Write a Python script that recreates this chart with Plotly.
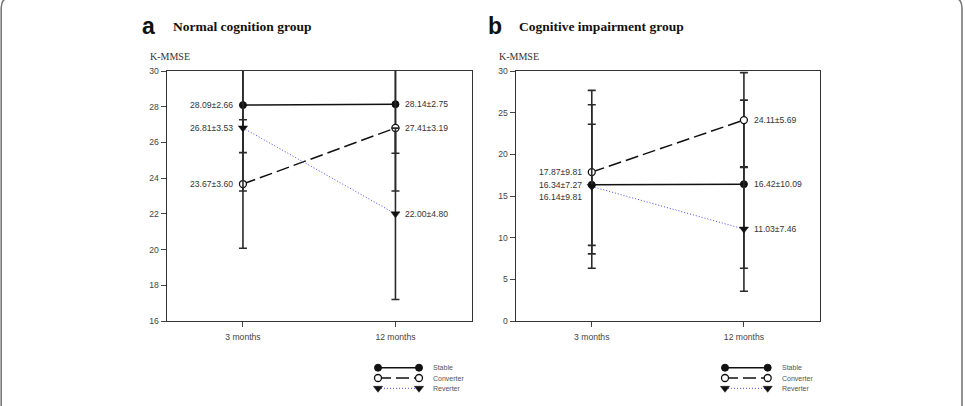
import plotly.graph_objects as go

W, H = 965, 406

categories = ["3 months", "12 months"]
series_names = ["Stable", "Converter", "Reverter"]

# Panel a: Normal cognition group (values as plotted)
a_stable = [28.09, 28.14]
a_stable_sd = [2.66, 2.75]
a_stable_txt = ["28.09±2.66", "28.14±2.75"]
a_conv = [23.67, 26.81]
a_conv_sd = [3.60, 3.53]
a_conv_txt = ["23.67±3.60", "27.41±3.19"]
a_rev = [26.81, 22.00]
a_rev_sd = [3.53, 4.80]
a_rev_txt = ["26.81±3.53", "22.00±4.80"]

# Panel b: Cognitive impairment group
b_stable = [16.34, 16.42]
b_stable_sd = [7.27, 10.09]
b_stable_txt = ["16.34±7.27", "16.42±10.09"]
b_conv = [17.87, 24.11]
b_conv_sd = [9.81, 5.69]
b_conv_txt = ["17.87±9.81", "24.11±5.69"]
b_rev = [16.14, 11.03]
b_rev_sd = [9.81, 7.46]
b_rev_txt = ["16.14±9.81", "11.03±7.46"]


def px(x):
    return x / W


def py(y):
    return 1 - y / H


STYLES = {
    "Stable": dict(line=dict(color="#111", width=1.5, dash="solid"),
                   marker=dict(symbol="circle", size=7, color="#111", line=dict(color="#111", width=1))),
    "Converter": dict(line=dict(color="#111", width=1.5, dash="13px,5px"),
                      marker=dict(symbol="circle", size=7, color="white", line=dict(color="#111", width=1.3))),
    "Reverter": dict(line=dict(color="#4a4aff", width=1, dash="1px,2px"),
                     marker=dict(symbol="triangle-down", size=8, color="#111", line=dict(color="#111", width=0.5))),
}

fig = go.Figure()

panels = [
    ("x", "y", [(a_stable, a_stable_sd), (a_conv, a_conv_sd), (a_rev, a_rev_sd)]),
    ("x2", "y2", [(b_stable, b_stable_sd), (b_conv, b_conv_sd), (b_rev, b_rev_sd)]),
]

xi = list(range(len(categories)))
for xa, ya, series in panels:
    for name, (vals, sds) in zip(series_names, series):
        st = STYLES[name]
        fig.add_trace(go.Scatter(
            x=xi, y=vals, mode="lines+markers", name=name, showlegend=False,
            xaxis=xa, yaxis=ya, line=st["line"], marker=st["marker"],
            error_y=dict(type="data", array=sds, visible=True, color="#2a2a2a",
                         thickness=1.6, width=4),
        ))

# value labels
label_specs = [
    ("x", "y", a_stable, a_stable_txt, [0, 0]),
    ("x", "y", a_conv, a_conv_txt, [0, 0]),
    ("x", "y", a_rev, a_rev_txt, [0, 0]),
    ("x2", "y2", b_stable, b_stable_txt, [0, 0]),
    ("x2", "y2", b_conv, b_conv_txt, [0, 0]),
    ("x2", "y2", b_rev, b_rev_txt, [-10, 0]),
]
annotations = []
for xa, ya, vals, txts, yshifts in label_specs:
    for i, (v, t) in enumerate(zip(vals, txts)):
        annotations.append(dict(
            x=i, y=v, xref=xa, yref=ya, text=t, showarrow=False,
            xanchor="right" if i == 0 else "left",
            xshift=-8 if i == 0 else 8, yshift=yshifts[i],
            font=dict(family="Liberation Sans", size=8.6, color="#333"),
        ))

# panel titles and axis titles
for lx, letter, tx, title, kx in [(140, "a", 171, "Normal cognition group", 148),
                                   (486, "b", 517, "Cognitive impairment group", 497)]:
    annotations.append(dict(x=px(lx), y=py(26), xref="paper", yref="paper", xanchor="left",
                            yanchor="middle", showarrow=False, text="<b>%s</b>" % letter,
                            font=dict(family="Liberation Sans", size=23, color="#111")))
    annotations.append(dict(x=px(tx), y=py(27), xref="paper", yref="paper", xanchor="left",
                            yanchor="middle", showarrow=False, text="<b>%s</b>" % title,
                            font=dict(family="Liberation Serif", size=13.5, color="#111")))
    annotations.append(dict(x=px(kx), y=py(56), xref="paper", yref="paper", xanchor="left",
                            yanchor="middle", showarrow=False, text="K-MMSE",
                            font=dict(family="Liberation Serif", size=10, color="#333")))

# legends (keys drawn on small auxiliary axes)
leg_rows = [2, 1, 0]
for xa, ya in [("x3", "y3"), ("x4", "y4")]:
    for name, row in zip(series_names, leg_rows):
        st = STYLES[name]
        fig.add_trace(go.Scatter(x=[0, 1], y=[row, row], mode="lines+markers", showlegend=False,
                                 xaxis=xa, yaxis=ya, line=st["line"], marker=st["marker"],
                                 cliponaxis=False, hoverinfo="skip"))
        annotations.append(dict(x=1, y=row, xref=xa, yref=ya, text=name, showarrow=False,
                                xanchor="left", xshift=12,
                                font=dict(family="Liberation Sans", size=7, color="#555")))

ax_common = dict(showline=True, mirror=True, linecolor="#333", linewidth=1.3,
                 ticks="outside", ticklen=5, tickcolor="#444", showgrid=False, zeroline=False,
                 automargin=False,
                 tickfont=dict(family="Liberation Sans", size=8.6, color="#444"))

ydom = [py(321), py(71)]
hid = dict(visible=False, automargin=False, fixedrange=True)
fig.update_layout(
    template="none",
    width=W, height=H, margin=dict(l=0, r=0, t=0, b=0, pad=0, autoexpand=False),
    paper_bgcolor="white", plot_bgcolor="white", showlegend=False,
    xaxis=dict(domain=[px(166.7), px(471.7)], range=[-0.5, 1.5], tickvals=xi, ticktext=categories,
               anchor="y", ticklabelstandoff=3, **ax_common),
    yaxis=dict(domain=ydom, range=[16, 30], dtick=2, tick0=16, anchor="x", **ax_common),
    xaxis2=dict(domain=[px(515.7), px(820)], range=[-0.5, 1.5], tickvals=xi, ticktext=categories,
                anchor="y2", ticklabelstandoff=3, **ax_common),
    yaxis2=dict(domain=ydom, range=[0, 30], dtick=5, tick0=0, anchor="x2", **ax_common),
    xaxis3=dict(domain=[px(378), px(419)], range=[0, 1], anchor="y3", **hid),
    yaxis3=dict(domain=[py(398.6), py(357.4)], range=[-1, 3], anchor="x3", **hid),
    xaxis4=dict(domain=[px(725), px(767.7)], range=[0, 1], anchor="y4", **hid),
    yaxis4=dict(domain=[py(398.6), py(357.4)], range=[-1, 3], anchor="x4", **hid),
    annotations=annotations,
)

# outer rounded frame
x0, x1, ytop, r = 1.2, 962, -3, 11
path = "M {a},{b} L {a},{c} Q {a},{d} {e},{d} L {f},{d} Q {g},{d} {g},{c} L {g},{b}".format(
    a=px(x0), b=py(406), c=py(ytop + r), d=py(ytop), e=px(x0 + r), f=px(x1 - r), g=px(x1))
fig.add_shape(type="path", path=path, xref="paper", yref="paper",
              line=dict(color="#777", width=1.6), fillcolor="rgba(0,0,0,0)", layer="above")

fig.write_html("out.html")
